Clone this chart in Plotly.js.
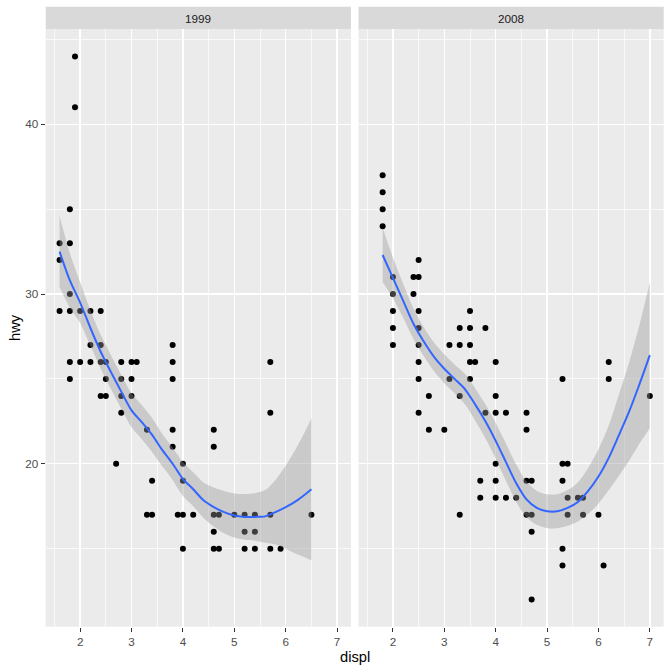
<!DOCTYPE html>
<html>
<head>
<meta charset="utf-8">
<script src="https://cdn.plot.ly/plotly-3.0.1.min.js"></script>
<style>html,body{margin:0;padding:0;background:#fff;}#chart{width:672px;height:672px;}</style>
</head>
<body>
<div id="chart"></div>
<script>
// ---- data ----
const years = ["1999", "2008"];

// 1999: distinct displ values and the hwy values seen at each
const displ1999 = [1.6, 1.8, 1.9, 2.0, 2.2, 2.4, 2.5, 2.7, 2.8, 3.0, 3.1, 3.3, 3.4, 3.8, 3.9, 4.0, 4.2, 4.6, 4.7, 5.0, 5.2, 5.4, 5.7, 5.9, 6.5];
const hwy1999 = [[33,32,29],[35,33,30,29,26,25],[44,41],[29,26],[29,27,26],[29,27,26,24],[26,25,24],[20],[26,25,24,23],[26,25,24],[26],[22,17],[19,17],[27,26,25,22,21],[17],[20,19,17,15],[17],[22,21,17,16,15],[17,15],[17],[17,16,15],[17,16,15],[26,23,17,15],[15],[17]];

// 2008
const displ2008 = [1.8, 2.0, 2.4, 2.5, 2.7, 3.0, 3.1, 3.3, 3.5, 3.6, 3.7, 3.8, 4.0, 4.2, 4.4, 4.6, 4.7, 5.3, 5.4, 5.6, 5.7, 6.0, 6.1, 6.2, 7.0];
const hwy2008 = [[37,36,35,34],[31,30,29,28,27],[31,30],[32,31,29,28,27,26,25,23],[24,22],[22],[27,25],[28,27,24,17],[29,28,27,26,25],[26],[19,18],[28,23],[26,24,23,20,19,18],[23,18],[18],[23,22,19,17],[19,17,16,12],[25,20,19,15,14],[20,18,17],[18],[18,17],[17],[14],[26,25],[24]];

// smooth (loess) curve and its confidence half-width
const fitX1999 = [1.6, 1.8, 2.0, 2.2, 2.4, 2.6, 2.8, 3.0, 3.2, 3.4, 3.6, 3.8, 4.0, 4.2, 4.4, 4.6, 4.8, 5.0, 5.2, 5.4, 5.6, 5.8, 6.0, 6.2, 6.4, 6.5];
const fitY1999 = [32.5, 30.8, 29.5, 28.0, 26.6, 25.4, 24.25, 23.15, 22.45, 21.7, 20.8, 20.0, 19.1, 18.5, 17.85, 17.45, 17.15, 16.95, 16.87, 16.87, 16.9, 17.15, 17.45, 17.8, 18.25, 18.5];
const fitSE1999 = [2.1, 1.6, 1.2, 1.05, 1.0, 1.0, 1.0, 1.0, 1.0, 1.0, 0.95, 0.95, 1.0, 1.0, 1.05, 1.15, 1.25, 1.3, 1.35, 1.4, 1.55, 1.9, 2.45, 3.1, 3.8, 4.2];

const fitX2008 = [1.8, 2.0, 2.2, 2.4, 2.6, 2.8, 3.0, 3.2, 3.4, 3.6, 3.8, 4.0, 4.2, 4.4, 4.6, 4.8, 5.0, 5.2, 5.4, 5.6, 5.8, 6.0, 6.2, 6.4, 6.6, 6.8, 7.0];
const fitY2008 = [32.3, 30.95, 29.6, 28.25, 27.2, 26.3, 25.6, 25.0, 24.4, 23.5, 22.5, 21.35, 20.1, 18.85, 17.9, 17.4, 17.2, 17.2, 17.4, 17.75, 18.4, 19.25, 20.35, 21.7, 23.1, 24.7, 26.4];
const fitSE2008 = [1.6, 1.2, 1.0, 0.9, 0.85, 0.85, 0.85, 0.85, 0.9, 0.95, 1.0, 1.05, 1.1, 1.1, 1.05, 1.0, 1.0, 1.0, 1.05, 1.15, 1.35, 1.6, 1.9, 2.4, 2.9, 3.5, 4.3];

const xTicks = [2, 3, 4, 5, 6, 7];
const yTicks = [20, 30, 40];

// ---- build traces ----
function flatten(xs, groups) {
  const X = [], Y = [];
  xs.forEach((x, i) => groups[i].forEach(v => { X.push(x); Y.push(v); }));
  return {X, Y};
}
function panelTraces(xs, groups, fx, fy, fse, xa, ya) {
  const p = flatten(xs, groups);
  const lo = fy.map((v, i) => v - fse[i]);
  const hi = fy.map((v, i) => v + fse[i]);
  return [
    {type: 'scatter', mode: 'markers', x: p.X, y: p.Y, xaxis: xa, yaxis: ya,
     marker: {color: '#000000', size: 6}, hoverinfo: 'skip', showlegend: false},
    {type: 'scatter', mode: 'lines', x: fx, y: lo, xaxis: xa, yaxis: ya,
     line: {width: 0, color: 'rgba(0,0,0,0)', shape: 'spline', smoothing: 0.8}, hoverinfo: 'skip', showlegend: false},
    {type: 'scatter', mode: 'lines', x: fx, y: hi, xaxis: xa, yaxis: ya,
     fill: 'tonexty', fillcolor: 'rgba(153,153,153,0.4)',
     line: {width: 0, color: 'rgba(0,0,0,0)', shape: 'spline', smoothing: 0.8}, hoverinfo: 'skip', showlegend: false},
    {type: 'scatter', mode: 'lines', x: fx, y: fy, xaxis: xa, yaxis: ya,
     line: {color: '#3366FF', width: 2, shape: 'spline', smoothing: 0.8}, hoverinfo: 'skip', showlegend: false}
  ];
}

const traces = [].concat(
  panelTraces(displ1999, hwy1999, fitX1999, fitY1999, fitSE1999, 'x', 'y'),
  panelTraces(displ2008, hwy2008, fitX2008, fitY2008, fitSE2008, 'x2', 'y2')
);

const W = 672, H = 672;
const L1 = 45.7 / W, R1 = 351 / W, L2 = 358.5 / W, R2 = 663.7 / W;
const B = 1 - 626.7 / H, T = 1 - 29.3 / H, ST = 1 - 6.7 / H;

const tickFont = {family: 'Liberation Sans, Arial, sans-serif', size: 11.7, color: '#4D4D4D'};
const xMinor = {tickvals: [1.5, 2.5, 3.5, 4.5, 5.5, 6.5], showgrid: true, gridcolor: '#FFFFFF', gridwidth: 0.7, ticks: ''};
const yMinor = {tickvals: [15, 25, 35, 45], showgrid: true, gridcolor: '#FFFFFF', gridwidth: 0.7, ticks: ''};

function xAxis(dom, anchor) {
  return {domain: dom, anchor: anchor, range: [1.33, 7.27], tickmode: 'array', tickvals: xTicks,
    ticktext: xTicks.map(String), ticks: 'outside', ticklen: 4, tickwidth: 1, tickcolor: '#333333',
    tickfont: tickFont, showgrid: true, gridcolor: '#FFFFFF', gridwidth: 1.4, zeroline: false,
    showline: false, minor: xMinor, fixedrange: true};
}
function yAxis(anchor, labels) {
  return {domain: [B, T], anchor: anchor, range: [10.4, 45.6], tickmode: 'array', tickvals: yTicks,
    ticktext: yTicks.map(String), ticks: labels ? 'outside' : '', ticklen: 4, tickwidth: 1,
    tickcolor: '#333333', showticklabels: labels, tickfont: tickFont, showgrid: true,
    gridcolor: '#FFFFFF', gridwidth: 1.4, zeroline: false, showline: false, minor: yMinor, fixedrange: true};
}

const stripFont = {family: 'Liberation Sans, Arial, sans-serif', size: 11.7, color: '#1A1A1A'};
const titleFont = {family: 'Liberation Sans, Arial, sans-serif', size: 14.7, color: '#000000'};

const layout = {
  width: W, height: H,
  margin: {l: 0, r: 0, t: 0, b: 0},
  paper_bgcolor: '#FFFFFF', plot_bgcolor: '#EBEBEB',
  showlegend: false,
  xaxis: xAxis([L1, R1], 'y'),
  yaxis: yAxis('x', true),
  xaxis2: xAxis([L2, R2], 'y2'),
  yaxis2: yAxis('x2', false),
  shapes: [
    {type: 'rect', xref: 'paper', yref: 'paper', x0: L1, x1: R1, y0: T, y1: ST, fillcolor: '#D9D9D9', line: {width: 0}, layer: 'below'},
    {type: 'rect', xref: 'paper', yref: 'paper', x0: L2, x1: R2, y0: T, y1: ST, fillcolor: '#D9D9D9', line: {width: 0}, layer: 'below'}
  ],
  annotations: [
    {text: years[0], xref: 'paper', yref: 'paper', x: (L1 + R1) / 2, y: (T + ST) / 2, showarrow: false, font: stripFont, xanchor: 'center', yanchor: 'middle'},
    {text: years[1], xref: 'paper', yref: 'paper', x: (L2 + R2) / 2, y: (T + ST) / 2, showarrow: false, font: stripFont, xanchor: 'center', yanchor: 'middle'},
    {text: 'displ', xref: 'paper', yref: 'paper', x: (L1 + R2) / 2, y: 1 - 656.5 / H, showarrow: false, font: titleFont, xanchor: 'center', yanchor: 'middle'},
    {text: 'hwy', xref: 'paper', yref: 'paper', x: 15 / W, y: (B + T) / 2, showarrow: false, font: titleFont, textangle: -90, xanchor: 'center', yanchor: 'middle'}
  ]
};

Plotly.newPlot('chart', traces, layout, {staticPlot: true, displayModeBar: false});
</script>
</body>
</html>
